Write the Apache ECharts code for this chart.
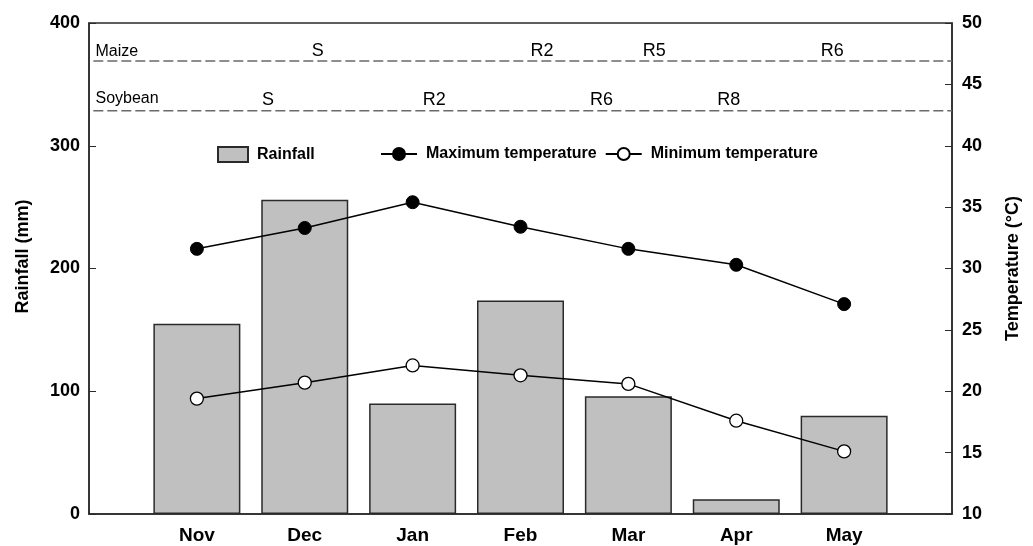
<!DOCTYPE html>
<html>
<head>
<meta charset="utf-8">
<script src="https://cdn.jsdelivr.net/npm/echarts@6/dist/echarts.min.js"></script>
<style>html,body{margin:0;padding:0;background:#fff}#c{width:1033px;height:546px}</style>
</head>
<body>
<div id="c"></div>
<script>
// ---- data ----
var months = ['Nov', 'Dec', 'Jan', 'Feb', 'Mar', 'Apr', 'May'];
var rainfall = [155, 256, 90, 174, 96, 12, 80];
var maxTemp = [31.6, 33.3, 35.4, 33.4, 31.6, 30.3, 27.1];
var minTemp = [19.4, 20.7, 22.1, 21.3, 20.6, 17.6, 15.1];
var maizeStages = ['S', 'R2', 'R5', 'R6'];
var maizeStageX = [2.12, 4.20, 5.24, 6.89];
var soyStages = ['S', 'R2', 'R6', 'R8'];
var soyStageX = [1.66, 3.20, 4.75, 5.93];
var maizeLineY = 369;     // rainfall-axis units
var soyLineY = 328.6;
var rainTicks = [0, 100, 200, 300, 400];
var tempTicks = [10, 15, 20, 25, 30, 35, 40, 45, 50];

var FONT = 'Liberation Sans, Arial, sans-serif';
var AX = '#2a2a2a';

function pairs(vals) { return vals.map(function (v, i) { return [i + 1, v]; }); }

var chart = echarts.init(document.getElementById('c'), null, {renderer: 'canvas'});
chart.setOption({
  animation: false,
  backgroundColor: '#fff',
  textStyle: {fontFamily: FONT},
  grid: {left: 89, right: 81, top: 23, bottom: 32, show: true, borderColor: AX, borderWidth: 1.5, backgroundColor: 'transparent'},
  legend: [
    {left: 212, top: 141, itemWidth: 30, itemHeight: 15, data: [{name: 'Rainfall', icon: 'rect'}],
     textStyle: {fontFamily: FONT, fontWeight: 'bold', fontSize: 16, color: '#000', padding: [0, 0, 0, 4]}},
    {left: 375, top: 141, itemWidth: 36, itemHeight: 15, itemGap: 8,
     data: ['Maximum temperature', 'Minimum temperature'],
     textStyle: {fontFamily: FONT, fontWeight: 'bold', fontSize: 16, color: '#000', padding: [0, 0, 0, 4]}}
  ],
  xAxis: {
    type: 'value', min: 0, max: 8, interval: 1,
    axisLine: {show: true, lineStyle: {color: AX, width: 1.5}},
    axisTick: {show: true, inside: true, length: 3, lineStyle: {color: AX}},
    splitLine: {show: false},
    axisLabel: {
      fontFamily: FONT, fontWeight: 'bold', fontSize: 19, color: '#000', margin: 12,
      formatter: function (v) { return (v >= 1 && v <= months.length) ? months[v - 1] : ''; }
    }
  },
  yAxis: [
    {
      type: 'value', min: rainTicks[0], max: rainTicks[rainTicks.length - 1], interval: 100,
      name: 'Rainfall (mm)', nameLocation: 'middle', nameGap: 57,
      nameTextStyle: {fontFamily: FONT, fontWeight: 'bold', fontSize: 18, color: '#000', padding: [0, 0, 0, 24]},
      axisLine: {show: true, lineStyle: {color: AX, width: 1.5}},
      axisTick: {show: true, inside: true, length: 7, lineStyle: {color: AX}},
      splitLine: {show: false},
      axisLabel: {fontFamily: FONT, fontWeight: 'bold', fontSize: 18, color: '#000', margin: 9}
    },
    {
      type: 'value', min: tempTicks[0], max: tempTicks[tempTicks.length - 1], interval: 5, position: 'right',
      name: 'Temperature (°C)', nameLocation: 'middle', nameGap: 52, nameRotate: 90,
      nameTextStyle: {fontFamily: FONT, fontWeight: 'bold', fontSize: 18, color: '#000'},
      axisLine: {show: true, lineStyle: {color: AX, width: 1.5}},
      axisTick: {show: true, inside: true, length: 7, lineStyle: {color: AX}},
      splitLine: {show: false},
      axisLabel: {fontFamily: FONT, fontWeight: 'bold', fontSize: 18, color: '#000', margin: 10}
    }
  ],
  series: [
    {
      name: 'Rainfall', type: 'bar', yAxisIndex: 0, barWidth: 87,
      data: pairs(rainfall),
      itemStyle: {color: '#c0c0c0', borderColor: '#2a2a2a', borderWidth: 1.5}
    },
    {
      name: 'maizeLine', type: 'line', yAxisIndex: 0, symbol: 'none', silent: true,
      data: [[0.04, maizeLineY], [8, maizeLineY]],
      lineStyle: {color: '#6a6a6a', width: 1.5, type: [10, 4]}
    },
    {
      name: 'soyLine', type: 'line', yAxisIndex: 0, symbol: 'none', silent: true,
      data: [[0.04, soyLineY], [8, soyLineY]],
      lineStyle: {color: '#6a6a6a', width: 1.5, type: [10, 4]}
    },
    {
      name: 'cropNames', type: 'scatter', yAxisIndex: 1, symbolSize: 0, silent: true,
      itemStyle: {opacity: 1},
      data: [[0.06, 47.7, 'Maize'], [0.06, 43.85, 'Soybean']],
      label: {show: true, position: 'inside', align: 'left', formatter: function (p) { return p.value[2]; },
              fontFamily: FONT, fontSize: 16, color: '#000'}
    },
    {
      name: 'maizeStages', type: 'scatter', yAxisIndex: 1, symbolSize: 0, silent: true,
      itemStyle: {opacity: 1},
      data: maizeStageX.map(function (x, i) { return [x, 47.7, maizeStages[i]]; }),
      label: {show: true, position: 'inside', formatter: function (p) { return p.value[2]; },
              fontFamily: FONT, fontSize: 18, color: '#000'}
    },
    {
      name: 'soyStages', type: 'scatter', yAxisIndex: 1, symbolSize: 0, silent: true,
      itemStyle: {opacity: 1},
      data: soyStageX.map(function (x, i) { return [x, 43.7, soyStages[i]]; }),
      label: {show: true, position: 'inside', formatter: function (p) { return p.value[2]; },
              fontFamily: FONT, fontSize: 18, color: '#000'}
    },
    {
      name: 'Maximum temperature', type: 'line', yAxisIndex: 1,
      data: pairs(maxTemp), symbol: 'circle', symbolSize: 13,
      lineStyle: {color: '#000', width: 1.5},
      itemStyle: {color: '#000', borderColor: '#000', borderWidth: 1}
    },
    {
      name: 'Minimum temperature', type: 'line', yAxisIndex: 1,
      data: pairs(minTemp), symbol: 'circle', symbolSize: 13,
      lineStyle: {color: '#000', width: 1.5},
      itemStyle: {color: '#fff', borderColor: '#000', borderWidth: 1.3}
    }
  ]
});
</script>
</body>
</html>
